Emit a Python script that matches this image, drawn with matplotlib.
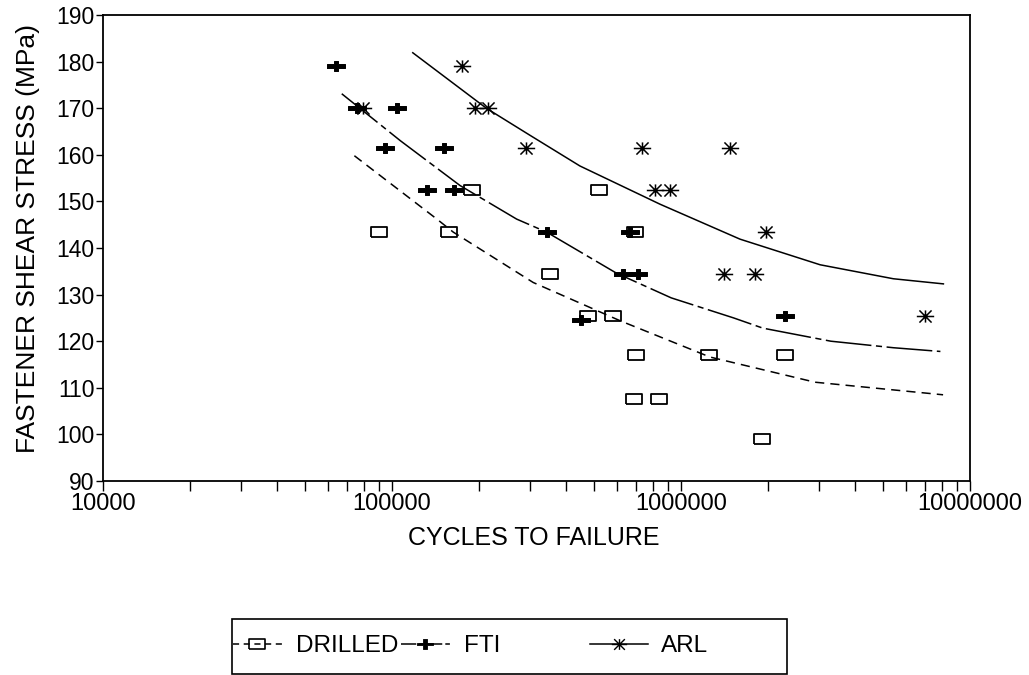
import numpy as np
import matplotlib
matplotlib.use('Agg')
import matplotlib.pyplot as plt
from matplotlib.path import Path
from matplotlib.lines import Line2D
from matplotlib.patches import Rectangle
from matplotlib.ticker import FixedLocator, LogLocator, NullFormatter

plt.rcParams['font.family'] = ['Liberation Sans', 'DejaVu Sans']

# %% Data
drilled_n = [90400, 157000, 189000, 352000, 520000, 478000, 583000, 693000,
             699000, 1250000, 2290000, 688000, 839000, 1910000]
drilled_s = [143.5, 143.5, 152.5, 134.5, 152.5, 125.5, 125.5, 143.5,
             117.0, 117.0, 117.0, 107.5, 107.5, 99.0]

fti_n = [63900, 75500, 104000, 94600, 151000, 132000, 164000, 343000,
         450000, 632000, 710000, 666000, 2290000]
fti_s = [179.0, 170.0, 170.0, 161.5, 161.5, 152.5, 152.5, 143.5,
         124.5, 134.5, 134.5, 143.5, 125.5]

arl_n = [79400, 174000, 194000, 215000, 292000, 731000, 1480000, 813000,
         916000, 1970000, 1410000, 1800000, 6980000]
arl_s = [170.0, 179.0, 170.0, 170.0, 161.5, 161.5, 161.5, 152.5,
         152.5, 143.5, 134.5, 134.5, 125.5]

# fitted curves
drilled_fit_n = [74100, 143000, 163000, 308000, 615000, 1260000, 2910000, 8070000]
drilled_fit_s = [159.8, 146.2, 143.4, 132.6, 124.4, 116.6, 111.2, 108.5]

fti_fit_n = [67000, 107000, 172000, 270000, 343000, 598000, 925000, 1520000,
             1920000, 3300000, 5430000, 7900000]
fti_fit_s = [173.1, 163.0, 153.4, 146.2, 143.4, 134.6, 129.3, 125.0,
             122.8, 120.0, 118.6, 117.8]

arl_fit_n = [118000, 212000, 300000, 447000, 846000, 1600000, 3030000, 5430000, 8090000]
arl_fit_s = [181.9, 170.0, 164.2, 157.6, 149.4, 141.9, 136.4, 133.4, 132.3]

y_ticks = list(range(90, 191, 10))
x_ticks = [1e4, 1e5, 1e6, 1e7]
x_labels = ['10000', '100000', '1000000', '10000000']

# %% Markers
rect_mk = [(-1, -0.62), (1, -0.62), (1, 0.62), (-1, 0.62), (-1, -0.62)]
h, th, v, tv = 1.0, 0.19, 0.6, 0.22
plus_mk = [(-h, -th), (-tv, -th), (-tv, -v), (tv, -v), (tv, -th), (h, -th),
           (h, th), (tv, th), (tv, v), (-tv, v), (-tv, th), (-h, th), (-h, -th)]
M, L = Path.MOVETO, Path.LINETO
star_mk = Path([(-1, 0), (1, 0), (-0.7, -0.7), (0.7, 0.7), (-0.7, 0.7), (0.7, -0.7),
                (0, -0.7), (0, 0.7)], [M, L, M, L, M, L, M, L])

drill_ls = (0, (6, 4))
fti_ls = (0, (30, 3, 4, 3))

# %% Plot
fig = plt.figure(figsize=(10.29, 6.75), dpi=100)
ax = fig.add_axes([103/1029, 1-481/675, 867/1029, 466/675])

ax.plot(drilled_fit_n, drilled_fit_s, color='k', lw=1.1, ls=drill_ls)
ax.plot(fti_fit_n, fti_fit_s, color='k', lw=1.1, ls=fti_ls)
ax.plot(arl_fit_n, arl_fit_s, color='k', lw=1.1)

ax.plot(drilled_n, drilled_s, ls='none', marker=rect_mk, ms=12, mfc='none',
        mec='k', mew=1.3)
ax.plot(fti_n, fti_s, ls='none', marker=plus_mk, ms=12.5, mfc='k', mec='k', mew=0.7)
ax.plot(arl_n, arl_s, ls='none', marker=star_mk, ms=12.5, mfc='none', mec='k', mew=1.1)

ax.set_xscale('log')
ax.set_xlim(1e4, 1e7)
ax.set_ylim(90, 190)
ax.xaxis.set_major_locator(FixedLocator(x_ticks))
ax.set_xticklabels(x_labels)
ax.xaxis.set_minor_locator(LogLocator(base=10, subs=np.arange(2, 10)))
ax.xaxis.set_minor_formatter(NullFormatter())
ax.set_yticks(y_ticks)
ax.tick_params(axis='both', which='both', direction='out', width=1.0, labelsize=17)
ax.tick_params(axis='x', which='both', length=7, pad=2)
ax.tick_params(axis='y', length=5, pad=1, labelsize=16.5)
for sp in ax.spines.values():
    sp.set_linewidth(1.3)

ax.set_xlabel('CYCLES TO FAILURE', fontsize=18)
ax.xaxis.set_label_coords(0.497, -0.097)
ax.xaxis.label.set_va('top')
ax.set_ylabel('FASTENER SHEAR STRESS (MPa)', fontsize=19)
ax.yaxis.set_label_coords(-0.073, 0.52)

# %% Legend
h_drill = Line2D([], [], color='k', lw=1.1, ls=(0, (4, 3)), marker=rect_mk, ms=12,
                 mfc='none', mec='k', mew=1.2)
h_fti = Line2D([], [], color='k', lw=1.1, ls=(0, (10, 2, 3, 2)), marker=plus_mk,
               ms=11, mfc='k', mec='k', mew=0.6)
h_arl = Line2D([], [], color='k', lw=1.1, marker=star_mk, ms=11, mfc='none',
               mec='k', mew=1.0)

fig.legend(handles=[h_drill, h_fti], labels=['DRILLED', 'FTI'], loc='center left',
           bbox_to_anchor=(233/1029, 1-646/675), ncol=2, frameon=False,
           borderpad=0, borderaxespad=0, handlelength=2.0, handletextpad=0.6,
           columnspacing=0.1, fontsize=17.5, numpoints=1)
fig.legend(handles=[h_arl], labels=['ARL'], loc='center left',
           bbox_to_anchor=(590/1029, 1-646/675), frameon=False,
           borderpad=0, borderaxespad=0, handlelength=2.4, handletextpad=0.5,
           fontsize=17.5, numpoints=1)
fig.add_artist(Rectangle((232/1029, 1.5/675), 555/1029, 1-619/675-1.5/675,
                         transform=fig.transFigure, fill=False, lw=1.2, ec='k'))

fig.savefig('out.png', dpi=100)
